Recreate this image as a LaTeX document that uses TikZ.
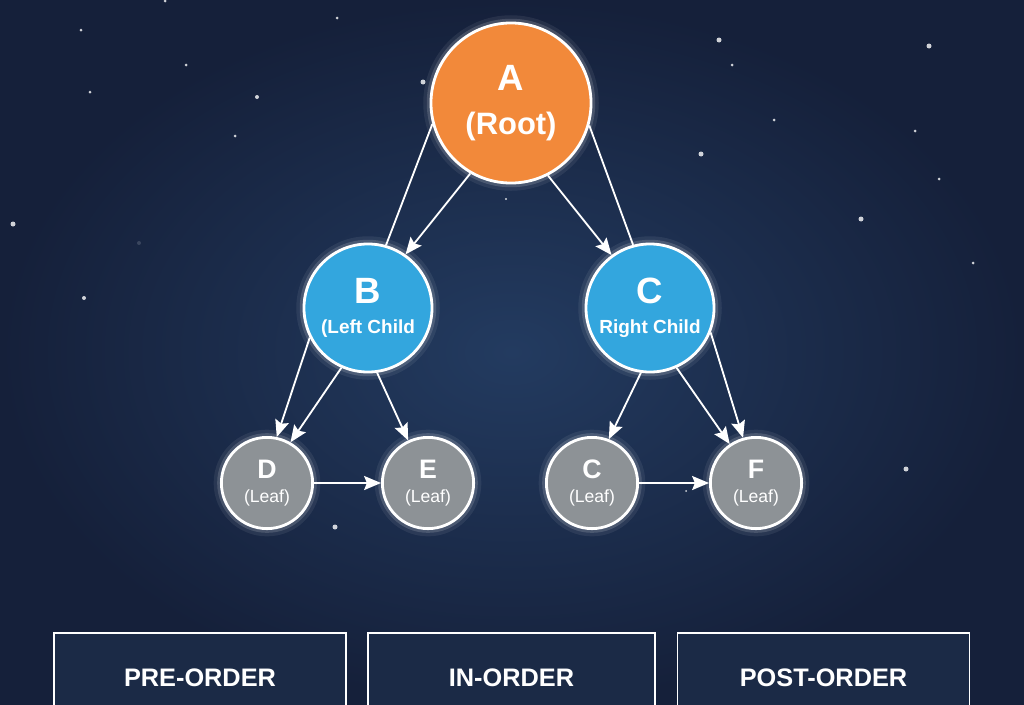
\documentclass[tikz,border=0pt]{standalone}
\usepackage{fontspec}
\setmainfont{Liberation Sans}
\usetikzlibrary{arrows.meta}
\definecolor{bgin}{HTML}{233B60}
\definecolor{bgout}{HTML}{15203A}
\definecolor{rootfill}{HTML}{F2893A}
\definecolor{childfill}{HTML}{33A6DE}
\definecolor{leaffill}{HTML}{8D9296}
\definecolor{boxfill}{HTML}{1B2A46}
\begin{document}
\begin{tikzpicture}[x=0.025cm,y=-0.025cm,
    halo/.style={preaction={draw=white,line width=11pt,opacity=0.07},
                 preaction={draw=white,line width=6pt,opacity=0.15}},
    vertex/.style={circle,draw=white,line width=2pt,text=white,align=center,inner sep=0pt,halo},
    root/.style={vertex,fill=rootfill,minimum size=4cm,font=\bfseries\fontsize{22}{31}\selectfont},
    child/.style={vertex,fill=childfill,minimum size=3.2cm,font=\bfseries\fontsize{13.5}{21}\selectfont},
    leaf/.style={vertex,fill=leaffill,minimum size=2.28cm,font=\fontsize{12.5}{17}\selectfont},
    edge/.style={white,line width=1.3pt},
    arc/.style={edge,-{Stealth[length=12pt,width=10pt,inset=2pt]}},
    order/.style={draw=white,line width=1.1pt,fill=boxfill,minimum width=7.3cm,
                  minimum height=2.25cm,text=white,font=\fontsize{18}{20}\selectfont\bfseries}]
    \useasboundingbox (0,0) rectangle (1024,704);
    \clip (0,0) rectangle (1024,704);
    \shade[inner color=bgin,outer color=bgout] (0,0) rectangle (1024,704);

    \foreach \x/\y/\r in {165/1/1.5, 81/30/1.5, 337/18/1.5, 186/65/1.5, 90/92/1.5, 257/97/2,
        235/136/1.5, 13/224/2.5, 84/298/2, 719/40/2.5, 732/65/1.5, 774/120/1.5, 701/154/2.5,
        929/46/2.5, 915/131/1.5, 939/179/1.5, 861/219/2.5, 973/263/1.5, 906/469/2.5,
        335/527/2.5, 423/82/2.5, 506/199/1.2, 686/491/1}
        \fill[white,opacity=0.8] (\x,\y) circle (\r);
    \fill[white,opacity=0.15] (139,243) circle (2);

    \node[root] (A) at (511,103) {{\fontsize{26}{31}\selectfont A}\\(Root)};
    \node[child] (B) at (368,308) {{\fontsize{26}{21}\selectfont B}\\(Left Child};
    \node[child] (C) at (650,308) {{\fontsize{26}{21}\selectfont C}\\Right Child};
    \node[leaf] (D) at (267,483) {{\bfseries\fontsize{19}{17}\selectfont D}\\(Leaf)};
    \node[leaf] (E) at (428,483) {{\bfseries\fontsize{19}{17}\selectfont E}\\(Leaf)};
    \node[leaf] (CL) at (592,483) {{\bfseries\fontsize{19}{17}\selectfont C}\\(Leaf)};
    \node[leaf] (F) at (756,483) {{\bfseries\fontsize{19}{17}\selectfont F}\\(Leaf)};

    \draw[edge] (A.195) -- (B.74);
    \draw[arc] (A.240) -- (B.55);
    \draw[arc] (A.297) -- (C.126);
    \draw[edge] (A.344) -- (C.105);
    \draw[arc] (B.207) -- (D.78);
    \draw[arc] (B.246) -- (D.60);
    \draw[arc] (B.278) -- (E.115);
    \draw[arc] (C.262) -- (CL.69);
    \draw[arc] (C.294) -- (F.124);
    \draw[arc] (C.338) -- (F.106);
    \draw[arc] (D) -- (E);
    \draw[arc] (CL) -- (F);

    \node[order] (pre) at (200,678) {PRE-ORDER};
    \node[order,minimum width=7.18cm] (in) at (511.5,678) {IN-ORDER};
    \node[order] (post) at (823.5,678) {POST-ORDER};
\end{tikzpicture}
\end{document}
